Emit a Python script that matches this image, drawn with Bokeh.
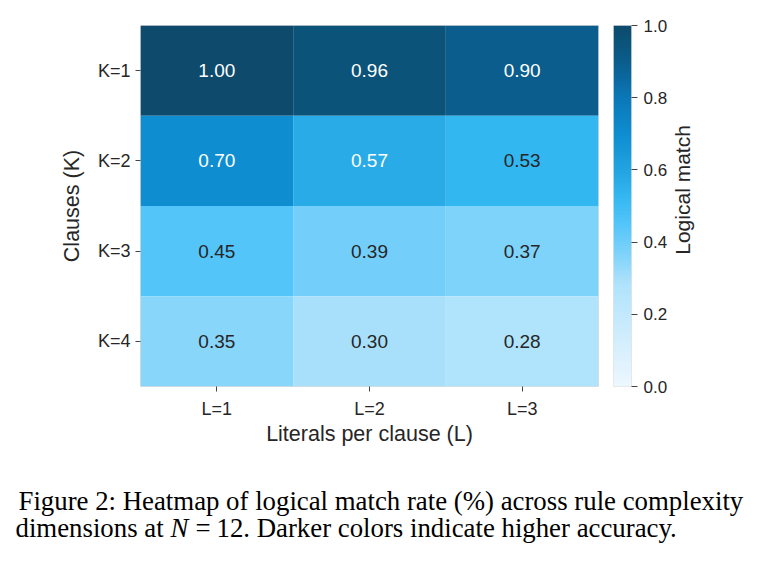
import math
import numpy as np
from bokeh.plotting import figure
from bokeh.models import (ColumnDataSource, LinearColorMapper, FixedTicker,
                          Range1d, FactorRange, NumeralTickFormatter)
from bokeh.layouts import row, column
from bokeh.core.properties import value
from bokeh.embed import file_html
from bokeh.resources import INLINE

# ---- data -------------------------------------------------------------
clauses = ["K=1", "K=2", "K=3", "K=4"]
literals = ["L=1", "L=2", "L=3"]
match_L1 = [1.00, 0.70, 0.45, 0.35]
match_L2 = [0.96, 0.57, 0.39, 0.30]
match_L3 = [0.90, 0.53, 0.37, 0.28]
cbar_ticks = [0.0, 0.2, 0.4, 0.6, 0.8, 1.0]

# ---- colour map (light sky blue -> deep navy) ------------------------
stops = [(0.00, "#eef7fe"), (0.28, "#b0e3fc"), (0.30, "#a7dffb"),
         (0.35, "#88d6fb"), (0.37, "#7dd3fb"), (0.39, "#72cffa"),
         (0.45, "#53c5f9"), (0.53, "#33b7f1"), (0.57, "#29abe7"),
         (0.70, "#0e8dd0"), (0.80, "#0b78b8"), (0.90, "#0a5d8d"),
         (0.96, "#0b5378"), (1.00, "#0d4a6c")]


def _rgb(h):
    return np.array([int(h[i:i + 2], 16) for i in (1, 3, 5)], dtype=float)


pos = np.array([s[0] for s in stops])
cols = np.array([_rgb(s[1]) for s in stops])
grid = np.linspace(0, 1, 256)
palette = []
for g in grid:
    c = [np.interp(g, pos, cols[:, k]) for k in range(3)]
    palette.append("#%02x%02x%02x" % tuple(int(round(v)) for v in c))

mapper = LinearColorMapper(palette=palette, low=0.0, high=1.0)

FONT = value("Liberation Sans")
TXT = "#262626"

# ---- heatmap ------------------------------------------------------------
columns = [match_L1, match_L2, match_L3]
xs, ys, vs, labels, tcolors = [], [], [], [], []
for j, lit in enumerate(literals):
    for i, cl in enumerate(clauses):
        v = columns[j][i]
        xs.append(lit)
        ys.append(cl)
        vs.append(v)
        labels.append(f"{v:.2f}")
        tcolors.append("white" if v > 0.55 else TXT)

src = ColumnDataSource(dict(lit=xs, cl=ys, v=vs, label=labels, tc=tcolors))

p1 = figure(width=605, height=450, output_backend="svg", toolbar_location=None,
            x_range=FactorRange(*literals), y_range=FactorRange(*clauses[::-1]),
            min_border_left=140, min_border_right=7, min_border_top=25,
            min_border_bottom=64)
p1.rect(x="lit", y="cl", width=1, height=1, source=src,
        fill_color={"field": "v", "transform": mapper}, line_color=None)
p1.text(x="lit", y="cl", text="label", text_color="tc", source=src,
        text_align="center", text_baseline="middle", text_font=FONT,
        text_font_size="19px")

p1.grid.visible = False
p1.outline_line_color = "#dcdcdc"
p1.background_fill_color = "white"
p1.border_fill_color = "white"
for ax in (p1.xaxis[0], p1.yaxis[0]):
    ax.axis_line_color = None
    ax.major_tick_in = 0
    ax.major_tick_out = 5
    ax.major_tick_line_color = "#444444"
    ax.minor_tick_line_color = None
    ax.major_label_text_font = "Liberation Sans"
    ax.major_label_text_font_size = "18px"
    ax.major_label_text_color = TXT
    ax.axis_label_text_font = "Liberation Sans"
    ax.axis_label_text_font_size = "21.5px"
    ax.axis_label_text_font_style = "normal"
    ax.axis_label_text_color = TXT
p1.xaxis.axis_label = "Literals per clause (L)"
p1.yaxis.axis_label = "Clauses (K)"
p1.xaxis.major_label_standoff = 7
p1.yaxis.major_label_standoff = 5
p1.xaxis.axis_label_standoff = 0
p1.yaxis.axis_label_standoff = 11

# ---- colour bar -----------------------------------------------------------
p2 = figure(width=67, height=450, output_backend="svg", toolbar_location=None,
            x_range=Range1d(0, 1), y_range=Range1d(0, 1),
            x_axis_location=None, y_axis_location="right",
            min_border_left=8, min_border_right=41, min_border_top=25,
            min_border_bottom=64)
p2.image(image=[grid.reshape(256, 1)], x=0, y=0, dw=1, dh=1,
         color_mapper=mapper)
p2.grid.visible = False
p2.outline_line_color = "#e4e4e4"
ax = p2.yaxis[0]
ax.ticker = FixedTicker(ticks=cbar_ticks)
ax.formatter = NumeralTickFormatter(format="0.0")
ax.axis_line_color = None
ax.major_tick_in = 0
ax.major_tick_out = 6
ax.major_tick_line_color = "#444444"
ax.minor_tick_line_color = None
ax.major_label_standoff = 6
ax.major_label_text_font = "Liberation Sans"
ax.major_label_text_font_size = "17px"
ax.major_label_text_color = TXT

# colour-bar title, read bottom to top
p4 = figure(width=87, height=450, output_backend="svg", toolbar_location=None,
            x_range=Range1d(0, 87), y_range=Range1d(0, 450),
            min_border=0, x_axis_location=None, y_axis_location=None)
p4.grid.visible = False
p4.outline_line_color = None
p4.text(x=[10], y=[245], text=["Logical match"], angle=math.pi / 2,
        text_align="center", text_baseline="middle", text_font=FONT,
        text_font_size="21px", text_color=TXT)

# ---- caption ----------------------------------------------------------------
p3 = figure(width=759, height=111, output_backend="svg", toolbar_location=None,
            x_range=Range1d(0, 759), y_range=Range1d(111, 0),
            min_border=0, x_axis_location=None, y_axis_location=None)
p3.grid.visible = False
p3.outline_line_color = None
SERIF = value("Liberation Serif")
cap_kw = dict(text_font=SERIF, text_font_size="26.8px", text_color="black",
              text_baseline="alphabetic", text_align="left")
p3.text(x=[18], y=[50],
        text=["Figure 2: Heatmap of logical match rate (%) across rule complexity"],
        **cap_kw)
p3.text(x=[15, 195, 216], y=[77, 77, 77],
        text=["dimensions at", "=", "12. Darker colors indicate higher accuracy."],
        **cap_kw)
p3.text(x=[170], y=[77], text=["N"], text_font_style="italic", **cap_kw)

layout = column(row(p1, p2, p4), p3)
open("out.html", "w").write(file_html(layout, INLINE))
